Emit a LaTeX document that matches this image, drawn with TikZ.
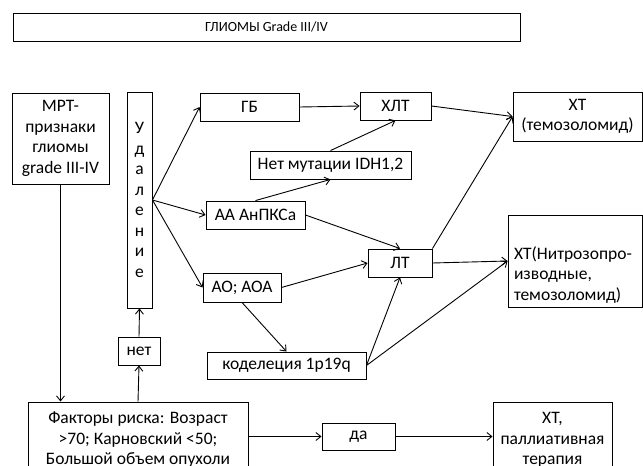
\documentclass[tikz,border=0pt]{standalone}
\usepackage{fontspec}
\setmainfont{Carlito}
\usepackage{tikz}
\usetikzlibrary{arrows.meta}

\tikzset{
  box/.style={draw, line width=0.9pt, inner sep=0pt, align=center, font=\fontsize{17.5}{20.5}\selectfont},
}

\begin{document}
\begin{tikzpicture}[x=1pt, y=-1pt, >={Straight Barb[length=5pt, width=8pt]}, line width=0.9pt]
    \clip (0,0) rectangle (643,466);
    \fill[white] (0,0) rectangle (643,466);

    \node[box, minimum width=507pt, minimum height=28pt, font=\fontsize{14}{17}\selectfont] (title) at (266.5, 27) {ГЛИОМЫ Grade III/IV};

    \node[box, minimum width=97pt, minimum height=91pt] (mrt) at (60.5, 138.5) {МРТ-\\признаки\\глиомы\\grade III-IV};
    \node[box, minimum width=25pt, minimum height=216pt] (udal) at (139.5, 200) {У\\д\\а\\л\\е\\н\\и\\е};
    \node[box, minimum width=42pt, minimum height=28pt] (net) at (139, 351) {нет};
    \node[box, minimum width=220pt, minimum height=76pt] (factors) at (138, 440) {Факторы риска: Возраст\\>70; Карновский <50;\\Большой объем опухоли};

    \node[box, minimum width=99pt, minimum height=28pt] (gb) at (249.5, 107) {ГБ};
    \node[box, minimum width=71pt, minimum height=28pt] (hlt) at (395.5, 106) {ХЛТ};
    \node[box, minimum width=161pt, minimum height=28pt] (idh) at (330.5, 165) {Нет мутации IDH1,2};
    \node[box, minimum width=99pt, minimum height=28pt] (aa) at (255.5, 215) {АА АнПКСа};
    \node[box, minimum width=78pt, minimum height=29pt] (ao) at (242, 287.5) {АО; АОА};
    \node[box, minimum width=64pt, minimum height=28pt] (lt) at (400, 263) {ЛТ};
    \node[box, minimum width=159pt, minimum height=27pt] (codel) at (286.5, 365.5) {коделеция 1p19q};

    \node[box, minimum width=129pt, minimum height=49pt] (xt1) at (577.5, 116.5) {ХТ\\(темозоломид)};
    \node[box, minimum width=134pt, minimum height=92pt] (xt2) at (575, 261) {};
    \node[box, draw=none, anchor=west, align=left] (xt2txt) at ([xshift=6pt, yshift=-14pt]xt2.west) {ХТ(Нитрозопро-\\изводные,\\темозоломид)};
    \node[box, minimum width=73pt, minimum height=27pt] (da) at (358.5, 436.5) {да};
    \node[box, minimum width=119pt, minimum height=76pt] (xt3) at (552.5, 440) {ХТ,\\паллиативная\\терапия};

    \draw[->] (mrt.south) -- (mrt.south |- factors.north);
    \draw[->] (factors.north) -- (net.south);
    \draw[->] (net.north) -- (udal.south);

    \draw[->] (udal.east) -- (gb.west);
    \draw[->] (udal.east) -- (aa.west);
    \draw[->] (udal.east) -- (ao.west);

    \draw[->] (gb.east) -- (hlt.west);
    \draw[->] (aa.north) -- (idh.south);
    \draw[->] (idh.north) -- (hlt.south);
    \draw[->] (aa.east) -- (lt.north);
    \draw[->] (ao.east) -- (lt.west);
    \draw[->] (ao.south) -- (codel.north);
    \draw[->] (codel.east) -- (lt.south);
    \draw[->] (codel.east) -- (xt2.west);

    \draw[->] (hlt.east) -- (xt1.west);
    \draw[->] (lt.north east) -- (xt1.west);
    \draw[->] (lt.east) -- (xt2.west);

    \draw[->] (da.west -| factors.east) -- (da.west);
    \draw[->] (da.east) -- (da.east -| xt3.west);
  \end{tikzpicture}
\end{document}
